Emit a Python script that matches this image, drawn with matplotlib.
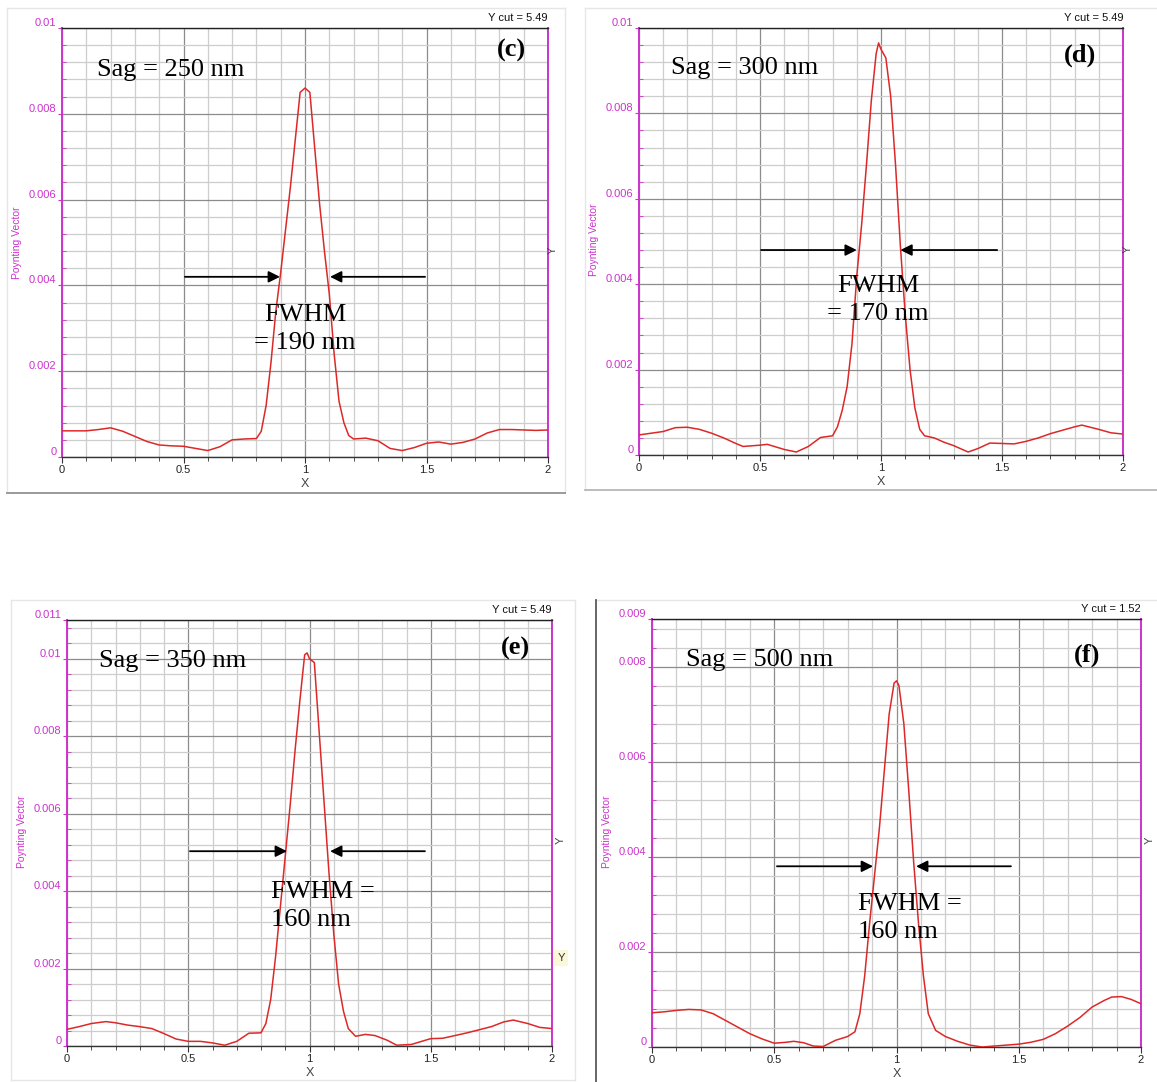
import matplotlib
matplotlib.use("Agg")
import matplotlib.pyplot as plt
from matplotlib.lines import Line2D
from matplotlib.ticker import FixedLocator

W, H = 1157, 1082
SCALE = 1e-3  # Poynting values below are listed in units of 1e-3

# ---------------- data: Poynting vector along X for four sag depths ----------------
x_c = [0, 0.1, 0.15, 0.2, 0.25, 0.3, 0.35, 0.4, 0.45, 0.5, 0.55, 0.6, 0.65, 0.7, 0.75, 0.8,
       0.82, 0.84, 0.86, 0.88, 0.9, 0.92, 0.94, 0.96, 0.98, 1.0, 1.02, 1.04, 1.06, 1.08, 1.1,
       1.12, 1.14, 1.16, 1.18, 1.2, 1.25, 1.3, 1.35, 1.4, 1.45, 1.5, 1.55, 1.6, 1.65, 1.7,
       1.75, 1.8, 1.85, 1.9, 1.95, 2.0]
p_c = [0.61, 0.61, 0.64, 0.68, 0.60, 0.48, 0.36, 0.28, 0.26, 0.25, 0.20, 0.15, 0.24, 0.40, 0.42, 0.43,
       0.60, 1.2, 2.2, 3.4, 4.3, 5.3, 6.3, 7.4, 8.5, 8.6, 8.5, 7.2, 5.9, 4.8, 3.8,
       2.4, 1.3, 0.8, 0.50, 0.42, 0.44, 0.38, 0.20, 0.15, 0.22, 0.32, 0.35, 0.30, 0.34, 0.42,
       0.56, 0.64, 0.64, 0.63, 0.62, 0.63]

x_d = [0, 0.05, 0.1, 0.15, 0.2, 0.25, 0.3, 0.35, 0.4, 0.43, 0.5, 0.53, 0.6, 0.65, 0.7, 0.75, 0.8,
       0.82, 0.84, 0.86, 0.88, 0.9, 0.92, 0.94, 0.96, 0.98, 0.99, 1.0, 1.02, 1.04, 1.06, 1.08,
       1.1, 1.12, 1.14, 1.16, 1.18, 1.22, 1.26, 1.3, 1.36, 1.4, 1.45, 1.5, 1.55, 1.6, 1.65, 1.7,
       1.75, 1.8, 1.83, 1.9, 1.95, 2.0]
p_d = [0.47, 0.51, 0.55, 0.64, 0.65, 0.60, 0.51, 0.40, 0.27, 0.20, 0.23, 0.25, 0.13, 0.07, 0.20, 0.41, 0.45,
       0.66, 1.05, 1.6, 2.6, 4.2, 5.4, 6.8, 8.3, 9.4, 9.65, 9.5, 9.3, 8.4, 6.8, 4.9,
       3.3, 2.0, 1.1, 0.6, 0.45, 0.40, 0.30, 0.22, 0.07, 0.15, 0.28, 0.27, 0.26, 0.32, 0.40, 0.50,
       0.58, 0.66, 0.70, 0.60, 0.52, 0.49]

x_e = [0, 0.05, 0.1, 0.16, 0.2, 0.25, 0.3, 0.35, 0.4, 0.45, 0.5, 0.55, 0.6, 0.65, 0.7, 0.75, 0.8,
       0.82, 0.84, 0.86, 0.88, 0.9, 0.92, 0.94, 0.96, 0.98, 0.99, 1.0, 1.02, 1.04, 1.06, 1.08,
       1.1, 1.12, 1.14, 1.16, 1.19, 1.23, 1.27, 1.32, 1.36, 1.42, 1.5, 1.55, 1.6, 1.65, 1.7,
       1.75, 1.8, 1.84, 1.9, 1.95, 2.0]
p_e = [0.43, 0.50, 0.58, 0.63, 0.60, 0.54, 0.50, 0.45, 0.32, 0.18, 0.12, 0.12, 0.08, 0.02, 0.12, 0.33, 0.34,
       0.58, 1.2, 2.3, 3.6, 4.9, 6.2, 7.6, 8.9, 10.1, 10.15, 10.0, 9.9, 8.1, 6.3, 4.5,
       2.9, 1.6, 0.9, 0.45, 0.25, 0.30, 0.27, 0.15, 0.02, 0.04, 0.19, 0.20, 0.27, 0.34, 0.42,
       0.50, 0.62, 0.67, 0.58, 0.48, 0.45]

x_f = [0, 0.05, 0.1, 0.15, 0.2, 0.25, 0.3, 0.35, 0.4, 0.45, 0.5, 0.55, 0.58, 0.62, 0.66, 0.7, 0.75,
       0.8, 0.83, 0.85, 0.87, 0.89, 0.91, 0.93, 0.95, 0.97, 0.99, 1.0, 1.01, 1.03, 1.05, 1.07,
       1.09, 1.11, 1.13, 1.16, 1.2, 1.25, 1.3, 1.35, 1.4, 1.5, 1.55, 1.6, 1.65, 1.7, 1.75, 1.8,
       1.85, 1.88, 1.92, 1.96, 2.0]
p_f = [0.72, 0.74, 0.77, 0.79, 0.78, 0.70, 0.56, 0.42, 0.28, 0.17, 0.08, 0.10, 0.12, 0.09, 0.02, 0.01, 0.14,
       0.22, 0.32, 0.7, 1.5, 2.6, 3.6, 4.6, 5.8, 7.0, 7.65, 7.7, 7.6, 6.8, 5.4, 3.9,
       2.6, 1.5, 0.7, 0.35, 0.22, 0.12, 0.04, 0.0, 0.02, 0.06, 0.10, 0.16, 0.28, 0.44, 0.62, 0.84,
       0.98, 1.05, 1.06, 1.0, 0.91]

panel_labels = ["(c)", "(d)", "(e)", "(f)"]
sag_labels = ["Sag = 250 nm", "Sag = 300 nm", "Sag = 350 nm", "Sag = 500 nm"]
fwhm_labels = ["FWHM\n= 190 nm", "FWHM\n= 170 nm", "FWHM =\n160 nm", "FWHM =\n160 nm"]
ycut_labels = ["Y cut = 5.49", "Y cut = 5.49", "Y cut = 5.49", "Y cut = 1.52"]
y_tops = [0.01, 0.01, 0.011, 0.009]
y_tick_labels = [["0", "0.002", "0.004", "0.006", "0.008", "0.01"],
                 ["0", "0.002", "0.004", "0.006", "0.008", "0.01"],
                 ["0", "0.002", "0.004", "0.006", "0.008", "0.01", "0.011"],
                 ["0", "0.002", "0.004", "0.006", "0.008", "0.009"]]
x_major = [0, 0.5, 1, 1.5, 2]
x_tick_labels = ["0", "0.5", "1", "1.5", "2"]
curves = [(x_c, p_c), (x_d, p_d), (x_e, p_e), (x_f, p_f)]

# ---------------- layout (pixel boxes: left, top, right, bottom) ----------------
boxes = [(62, 28, 548, 457), (639, 28, 1123, 455), (67, 620, 552, 1046), (652, 619, 1141, 1047)]
# FWHM arrows: (y, left tail, left tip, right tail, right tip) in data units
arrows = [(0.0042, 0.506, 0.897, 1.494, 1.103),
          (0.0048, 0.504, 0.900, 1.480, 1.080),
          (0.00503, 0.507, 0.907, 1.476, 1.085),
          (0.0038, 0.511, 0.904, 1.468, 1.080)]
sag_pos = [(97, 70), (671, 68), (99, 661), (686, 660)]
letter_pos = [(511, 50), (1080, 55), (515, 648), (1087, 655)]
fwhm_pos = [(305, 329, "center"), (878, 300, "center"), (271, 906, "left"), (858, 918, "left")]
ylabel_pos = [(17, 243), (594, 240), (22, 832), (607, 832)]
yright_pos = [(553, 250), (1128, 249), (561, 840), (1150, 840)]

MAGENTA = "#cc33cc"
RED = "#dd2828"
SANS = ["Liberation Sans Narrow", "Liberation Sans", "DejaVu Sans"]
SERIF = ["Liberation Serif", "DejaVu Serif"]

fig = plt.figure(figsize=(W / 100, H / 100), dpi=100)
fig.patch.set_facecolor("white")


def ftext(x, y, s, **kw):
    return fig.text(x / W, 1 - y / H, s, **kw)


def hline(x0, x1, y, color, lw=1.0):
    fig.add_artist(Line2D([x0 / W, x1 / W], [1 - y / H, 1 - y / H], color=color, lw=lw))


def vline(x, y0, y1, color, lw=1.0):
    fig.add_artist(Line2D([x / W, x / W], [1 - y0 / H, 1 - y1 / H], color=color, lw=lw))


# window frames around each plot
hline(7, 565, 8, "#e6e6e6"); vline(7, 8, 493, "#e6e6e6"); vline(565, 8, 493, "#e6e6e6")
hline(7, 565, 493, "#9a9a9a", 1.4)
hline(585, 1157, 8, "#e6e6e6"); vline(585, 8, 490, "#e6e6e6")
hline(585, 1157, 490, "#b0b0b0", 1.2)
hline(11, 575, 600, "#e6e6e6"); vline(11, 600, 1080, "#e6e6e6"); hline(11, 575, 1080, "#e6e6e6")
vline(575, 600, 1080, "#e6e6e6")
hline(596, 1157, 600, "#e6e6e6"); vline(596, 600, 1082, "#5a5a5a", 1.3)

for i in range(4):
    l, t, r, b = boxes[i]
    ax = fig.add_axes([l / W, 1 - b / H, (r - l) / W, (b - t) / H])
    top = y_tops[i]
    xs, ps = curves[i]
    ax.plot(xs, [p * SCALE for p in ps], color=RED, lw=1.1, zorder=3)
    ax.set_xlim(0, 2)
    ax.set_ylim(0, top)

    # ticks and grid
    ymaj = [k * 0.002 for k in range(int(top / 0.002 + 1e-6) + 1)]
    if abs(ymaj[-1] - top) > 1e-9:
        ymaj.append(top)
    ymin = [k * 0.0004 for k in range(int(top / 0.0004 + 1e-6) + 1)
            if all(abs(k * 0.0004 - m) > 1e-9 for m in ymaj)]
    ax.yaxis.set_major_locator(FixedLocator(ymaj))
    ax.yaxis.set_minor_locator(FixedLocator(ymin))
    ax.set_yticklabels(y_tick_labels[i])
    ax.xaxis.set_major_locator(FixedLocator(x_major))
    ax.xaxis.set_minor_locator(FixedLocator([k / 10 for k in range(21) if k % 5]))
    ax.set_xticklabels(x_tick_labels)

    ax.grid(which="major", color="#8c8c8c", lw=0.9, zorder=1)
    ax.grid(which="minor", color="#cdcdcd", lw=0.9, zorder=1)
    ax.set_axisbelow(True)

    ax.tick_params(axis="y", which="major", direction="out", length=3, color=MAGENTA,
                   labelcolor=MAGENTA, labelsize=8, pad=1)
    ax.tick_params(axis="y", which="minor", direction="in", length=3, color=MAGENTA)
    ax.tick_params(axis="x", which="major", direction="out", length=4, color="#333333",
                   labelcolor="#222222", labelsize=8, pad=2)
    ax.tick_params(axis="x", which="minor", direction="out", length=3, color="#333333")
    for lab in ax.get_yticklabels():
        lab.set_verticalalignment("bottom")
        lab.set_family(SANS)
    for lab in ax.get_xticklabels():
        lab.set_family(SANS)

    for side in ("left", "right"):
        ax.spines[side].set_color(MAGENTA)
        ax.spines[side].set_linewidth(1.4)
    ax.spines["top"].set_color("#222222")
    ax.spines["bottom"].set_color("#333333")
    ax.spines["top"].set_linewidth(1.0)
    ax.spines["bottom"].set_linewidth(1.0)

    # FWHM arrows
    ay, lt, lp, rt, rp = arrows[i]
    aprops = dict(arrowstyle="-|>", color="black", lw=1.3, mutation_scale=17,
                  shrinkA=0, shrinkB=0)
    ax.annotate("", xy=(lp, ay), xytext=(lt, ay), arrowprops=aprops, zorder=4)
    ax.annotate("", xy=(rp, ay), xytext=(rt, ay), arrowprops=aprops, zorder=4)

    # axis texts
    ftext(r, t - 5, ycut_labels[i], ha="right", va="bottom", fontsize=8,
          family=SANS, color="#111111")
    ftext((l + r) / 2, b + 27, "X", ha="center", va="center", fontsize=9,
          family=SANS, color="#444444")
    yx, yy = ylabel_pos[i]
    ftext(yx, yy, "Poynting Vector", rotation=90, ha="center", va="center",
          fontsize=7.5, family=SANS, color=MAGENTA)
    rx, ry = yright_pos[i]
    ftext(rx, ry, "Y", rotation=90, ha="center", va="center", fontsize=8,
          family=SANS, color="#444444")

    # annotations
    sx, sy = sag_pos[i]
    ftext(sx, sy, sag_labels[i], ha="left", va="center", fontsize=19, family=SERIF)
    cx, cy = letter_pos[i]
    ftext(cx, cy, panel_labels[i], ha="center", va="center", fontsize=19,
          family=SERIF, fontweight="bold")
    fx, fy, fa = fwhm_pos[i]
    ftext(fx, fy, fwhm_labels[i], ha=fa, va="center", fontsize=19, family=SERIF,
          linespacing=1.38, multialignment="center" if fa == "center" else "left")

# small tooltip box beside the (e) plot
ftext(561, 958, "Y", ha="center", va="center", fontsize=8, family=SANS, color="#333333",
      bbox=dict(boxstyle="square,pad=0.25", facecolor="#fbf8d8", edgecolor="none"))

fig.savefig("out.png", dpi=100, facecolor="white")
